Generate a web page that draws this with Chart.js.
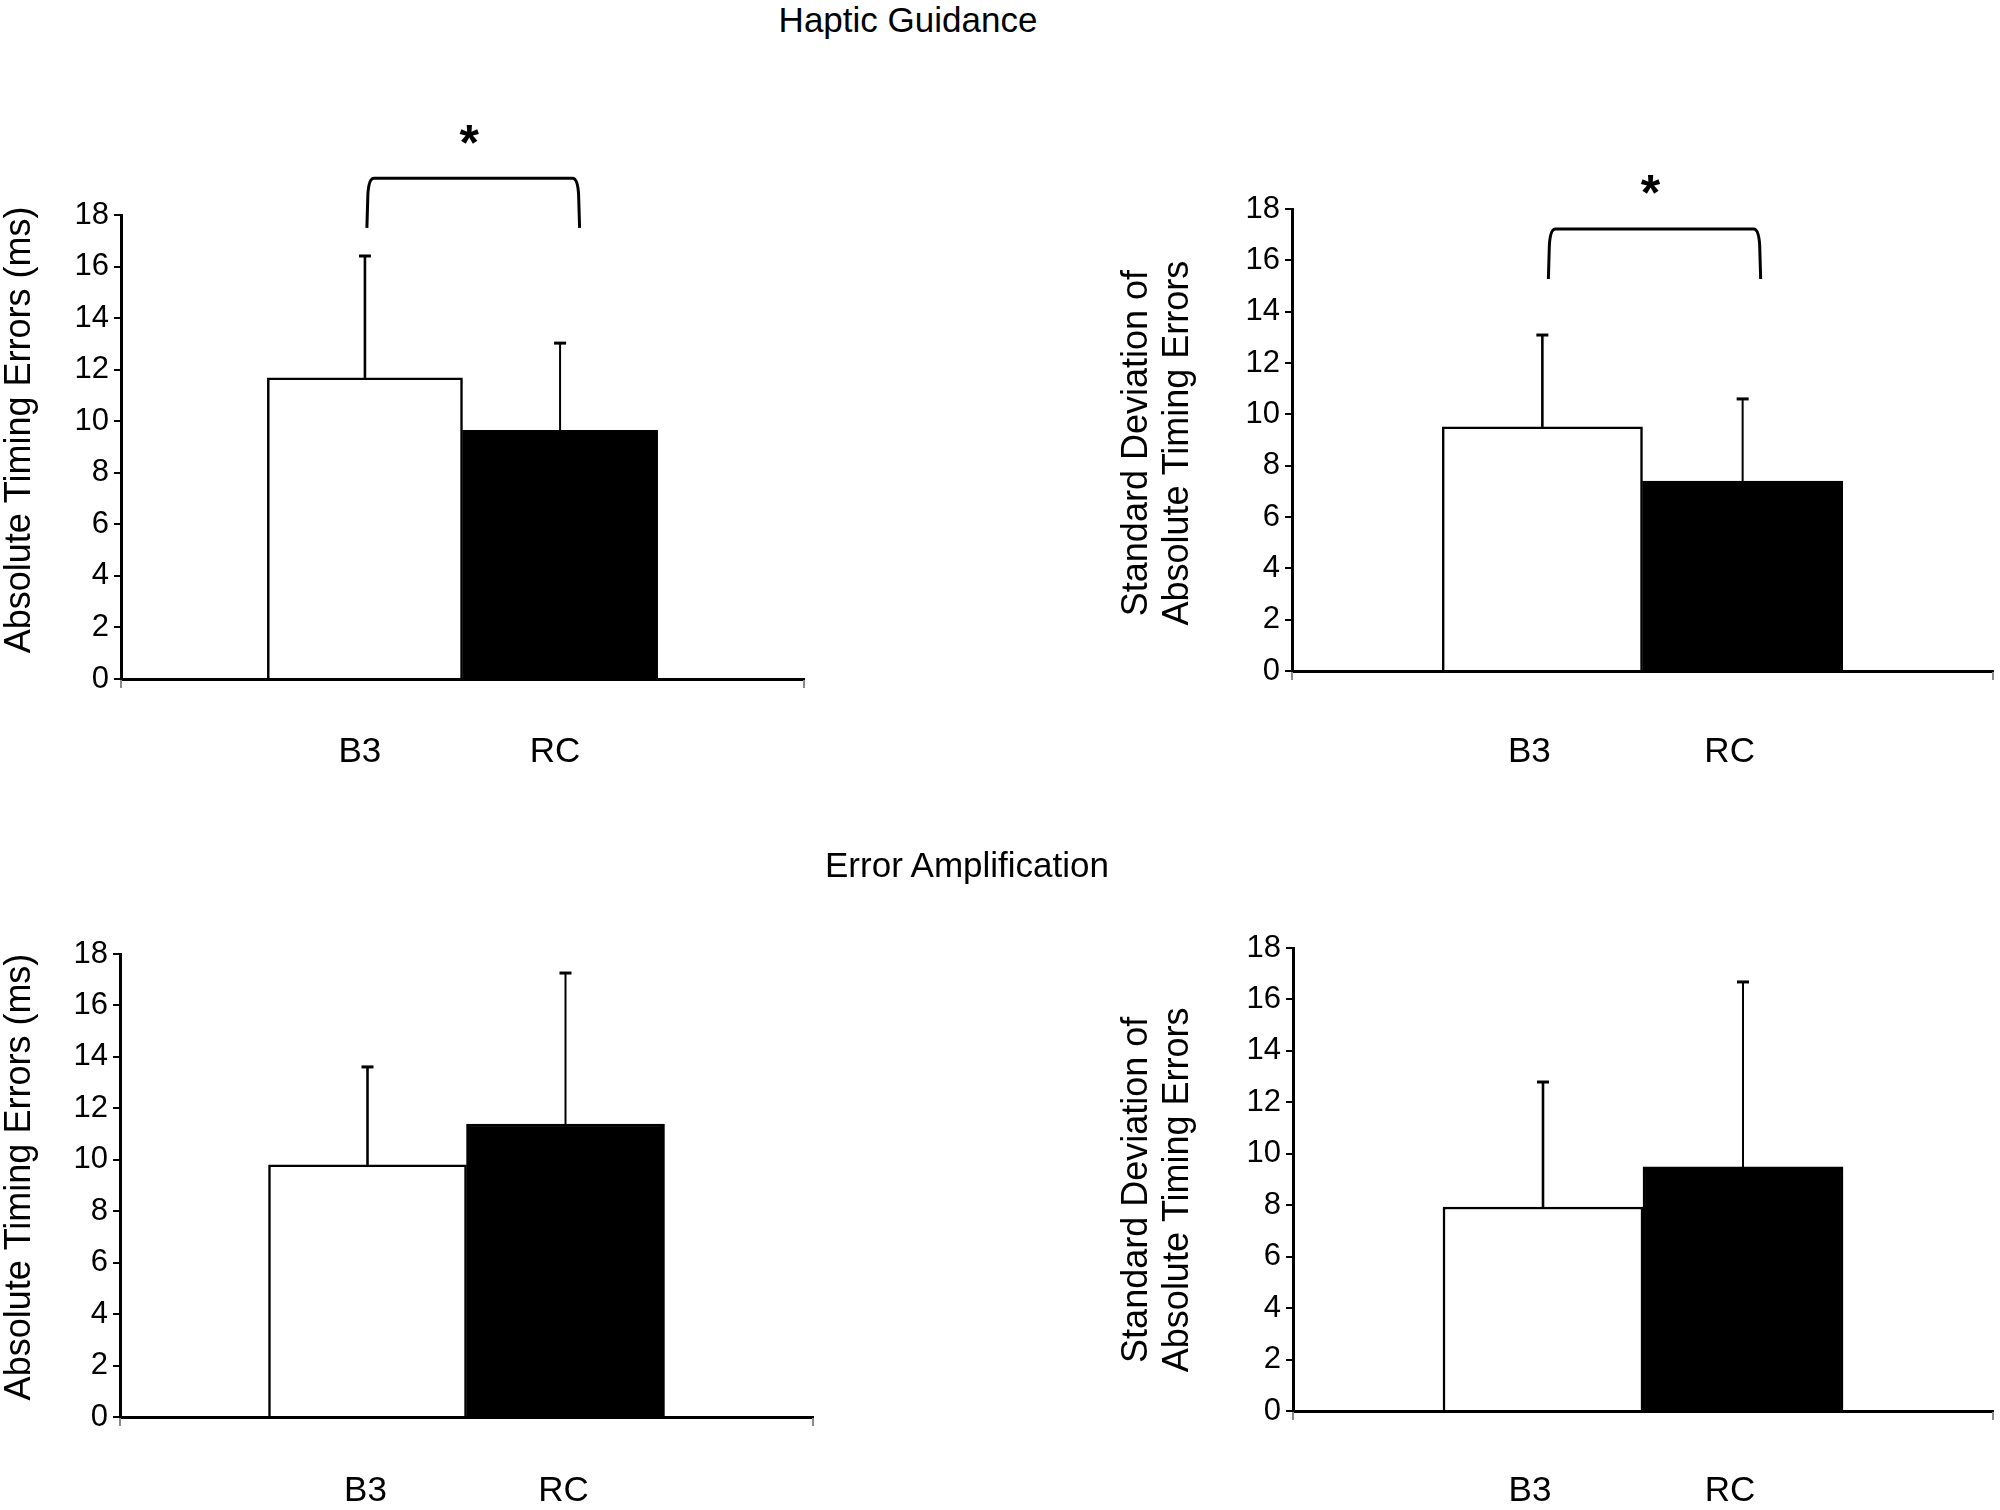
<!DOCTYPE html>
<html>
<head>
<meta charset="utf-8">
<script src="https://cdn.jsdelivr.net/npm/chart.js@4.4.0/dist/chart.umd.min.js"></script>
<style>
  html, body { margin: 0; padding: 0; background: #fff; overflow: hidden; }
  body { width: 2000px; height: 1510px; position: relative; font-family: "Liberation Sans", Arial, sans-serif; }
  canvas { position: absolute; }
  .title { position: absolute; font-size: 35px; line-height: 35px; color: #000; transform: translateX(-50%); white-space: nowrap; }
</style>
</head>
<body>
<canvas id="hgAbs" width="830" height="720" style="left:0px;top:100px"></canvas>
<canvas id="hgSd" width="884" height="720" style="left:1116px;top:100px"></canvas>
<canvas id="eaAbs" width="840" height="670" style="left:0px;top:840px"></canvas>
<canvas id="eaSd" width="884" height="670" style="left:1116px;top:840px"></canvas>
<div class="title" style="left:908px;top:2px">Haptic Guidance</div>
<div class="title" style="left:967px;top:847px">Error Amplification</div>
<script>
// groups on the x axis
const groups = ['B3', 'RC'];
const yTicks = [0, 18, 2]; // min, max, step

// Haptic Guidance
const hgAbsMean = [11.68, 9.65];
const hgAbsErr = [4.73, 3.38];
const hgSdMean = [9.51, 7.40];
const hgSdErr = [3.58, 3.20];

// Error Amplification
const eaAbsMean = [9.80, 11.39];
const eaAbsErr = [3.81, 5.87];
const eaSdMean = [7.93, 9.49];
const eaSdErr = [4.86, 7.19];

const FONT = "'Liberation Sans', Arial, sans-serif";
Chart.defaults.font.family = FONT;
Chart.defaults.color = '#000';

// upward-only error bars with a small cap
const errorBars = {
  id: 'errorBars',
  afterDatasetsDraw(chart) {
    const { ctx, scales: { y } } = chart;
    const ds = chart.data.datasets[0];
    const meta = chart.getDatasetMeta(0);
    ctx.save();
    ctx.strokeStyle = '#000';
    meta.data.forEach((bar, i) => {
      const top = y.getPixelForValue(ds.data[i].y + ds.errors[i]);
      ctx.lineWidth = i === 0 ? 2.6 : 2;
      ctx.beginPath();
      ctx.moveTo(bar.x, bar.y);
      ctx.lineTo(bar.x, top);
      ctx.stroke();
      ctx.lineWidth = 3;
      ctx.beginPath();
      ctx.moveTo(bar.x - 6, top);
      ctx.lineTo(bar.x + 6, top);
      ctx.stroke();
    });
    // little grey ticks under both ends of the x axis
    const a = chart.chartArea;
    ctx.strokeStyle = '#8a8a8a';
    ctx.lineWidth = 2;
    [a.left, a.right].forEach(px => {
      ctx.beginPath();
      ctx.moveTo(px, a.bottom + 1);
      ctx.lineTo(px, a.bottom + 9);
      ctx.stroke();
    });
    ctx.restore();
  }
};

// rotated y-axis title, centred on a value of the y scale
const yTitle = {
  id: 'yTitle',
  afterDraw(chart, args, opts) {
    const { ctx, scales: { y } } = chart;
    const lines = [].concat(opts.text);
    ctx.save();
    ctx.translate(opts.x, y.getPixelForValue(opts.at));
    ctx.rotate(-Math.PI / 2);
    ctx.fillStyle = '#000';
    ctx.font = '36px ' + FONT;
    ctx.textAlign = 'center';
    ctx.textBaseline = 'middle';
    lines.forEach((t, i) => ctx.fillText(t, 0, i * 41));
    ctx.restore();
  }
};

// significance bracket + asterisk
const bracket = {
  id: 'bracket',
  afterDraw(chart, args, opts) {
    if (!opts || opts.top === undefined) return;
    const { ctx, scales: { x, y } } = chart;
    const xl = x.getPixelForValue(opts.from);
    const xr = x.getPixelForValue(opts.to);
    const yt = y.getPixelForValue(opts.top);
    const yb = y.getPixelForValue(opts.bottom);
    ctx.save();
    ctx.strokeStyle = '#000';
    ctx.lineWidth = 3;
    ctx.beginPath();
    ctx.moveTo(xl, yb);
    ctx.lineTo(xl + 1, yt + 16);
    ctx.quadraticCurveTo(xl + 2, yt, xl + 7, yt);
    ctx.lineTo(xr - 7, yt);
    ctx.quadraticCurveTo(xr - 2, yt, xr - 1, yt + 16);
    ctx.lineTo(xr, yb);
    ctx.stroke();
    ctx.fillStyle = '#000';
    ctx.font = 'bold 50px ' + FONT;
    ctx.textAlign = 'center';
    ctx.textBaseline = 'alphabetic';
    ctx.fillText('*', (xl + xr) / 2 - 4, y.getPixelForValue(opts.star) + 22);
    ctx.restore();
  }
};

function makeChart(id, means, errs, cfg) {
  return new Chart(document.getElementById(id), {
    type: 'bar',
    data: {
      datasets: [{
        data: groups.map((g, i) => ({ x: i + 1, y: means[i] })),
        errors: errs,
        backgroundColor: ['#ffffff', '#000000'],
        borderColor: '#000',
        borderWidth: 2.5,
        barPercentage: 1,
        categoryPercentage: 1
      }]
    },
    plugins: [errorBars, bracket, yTitle],
    options: {
      responsive: false,
      animation: false,
      devicePixelRatio: 1,
      layout: { padding: { top: cfg.padTop, right: cfg.padRight, left: 0, bottom: 0 } },
      plugins: {
        legend: { display: false },
        tooltip: { enabled: false },
        bracket: cfg.bracket || {},
        yTitle: cfg.title
      },
      scales: {
        x: {
          type: 'linear',
          min: -0.25,
          max: 3.25,
          offset: false,
          afterBuildTicks: s => { s.ticks = groups.map((g, i) => ({ value: i + 1 })); },
          afterFit: s => { s.height = cfg.xHeight; },
          grid: { display: false, offset: false },
          border: { display: true, color: '#000', width: 3 },
          ticks: {
            padding: cfg.labelPad,
            labelOffset: cfg.labelShift,
            maxRotation: 0,
            autoSkip: false,
            font: { size: 35 },
            callback: v => groups[v - 1]
          }
        },
        y: {
          min: yTicks[0],
          max: yTicks[1],
          afterFit: s => { s.width = cfg.yWidth; },
          grid: { drawOnChartArea: false, drawTicks: true, tickLength: 7, color: '#000', lineWidth: 2 },
          border: { display: true, color: '#000', width: 3 },
          ticks: { stepSize: yTicks[2], padding: 5, font: { size: 31 } }
        }
      }
    }
  });
}

makeChart('hgAbs', hgAbsMean, hgAbsErr, {
  padTop: 115, padRight: 26, yWidth: 121, xHeight: 141, labelPad: 44, labelShift: -5,
  title: { text: 'Absolute Timing Errors (ms)', x: 20, at: 9.66 },
  bracket: { from: 1.01, to: 2.1, top: 19.43, bottom: 17.5, star: 21.0 }
});
makeChart('hgSd', hgSdMean, hgSdErr, {
  padTop: 109, padRight: 7, yWidth: 176, xHeight: 149, labelPad: 52, labelShift: -13,
  title: { text: ['Standard Deviation of', 'Absolute Timing Errors'], x: 21, at: 8.88 },
  bracket: { from: 1.03, to: 2.09, top: 17.22, bottom: 15.27, star: 18.8 }
});
makeChart('eaAbs', eaAbsMean, eaAbsErr, {
  padTop: 114, padRight: 27, yWidth: 120, xHeight: 93, labelPad: 45, labelShift: -2,
  title: { text: 'Absolute Timing Errors (ms)', x: 20, at: 9.33 }
});
makeChart('eaSd', eaSdMean, eaSdErr, {
  padTop: 108, padRight: 7, yWidth: 177, xHeight: 99, labelPad: 51, labelShift: -13,
  title: { text: ['Standard Deviation of', 'Absolute Timing Errors'], x: 21, at: 8.6 }
});
</script>
</body>
</html>
